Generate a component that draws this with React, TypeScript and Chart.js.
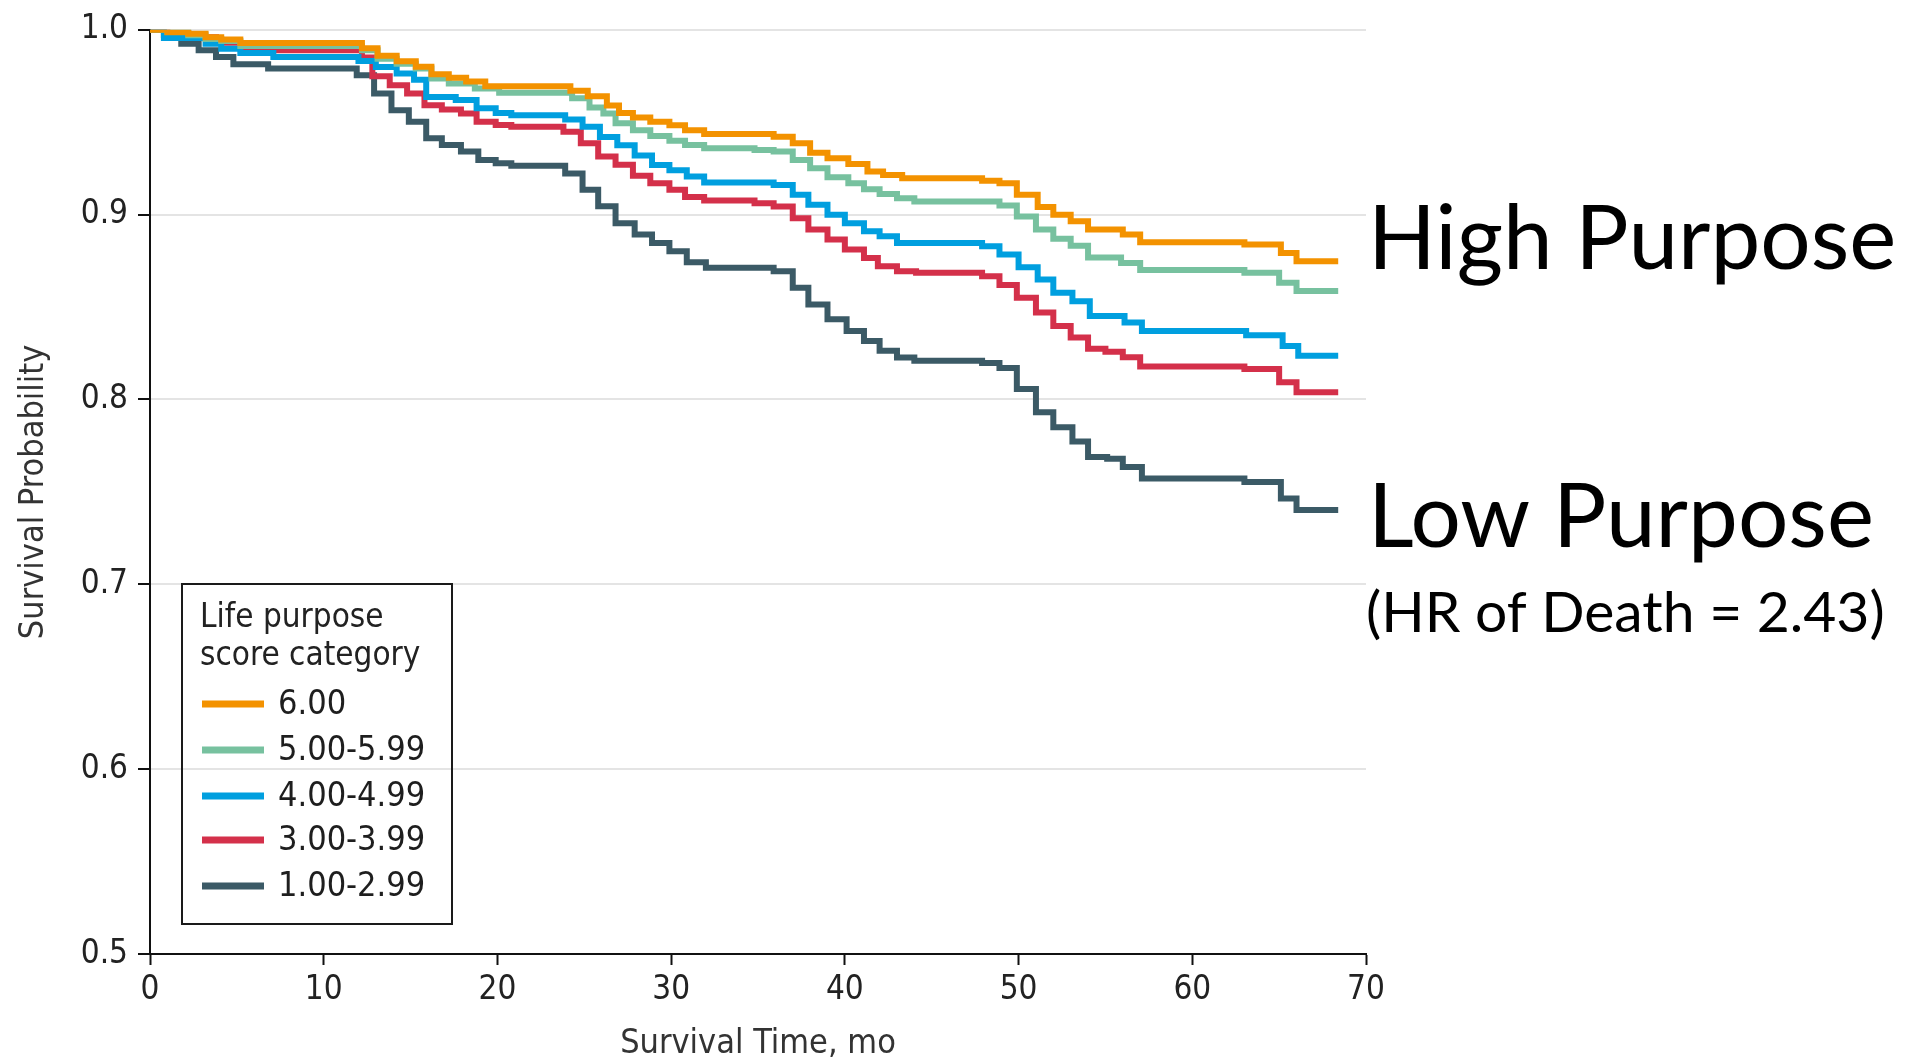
import React, { useEffect, useRef } from 'react';
import { Chart, registerables } from 'chart.js';

Chart.register(...registerables);

// ---- Data ----
const seriesLabels = ['6.00', '5.00-5.99', '4.00-4.99', '3.00-3.99', '1.00-2.99'];
const seriesColors = ['#F39200', '#77C19F', '#009FDF', '#D4304A', '#3B5A66'];

const monthsP6 = [0, 1.0, 2.2, 3.2, 4.1, 5.2, 12.2, 13.1, 14.2, 15.3, 16.2, 17.2, 18.2, 19.3, 24.2, 25.2, 26.3, 27.0, 27.8, 28.8, 29.9, 30.8, 31.9, 35.9, 37.0, 38.0, 39.0, 40.2, 41.3, 42.2, 43.3, 47.9, 48.9, 49.9, 51.1, 52.0, 53.0, 54.0, 56.0, 57.0, 63.0, 65.1, 66.0, 68.4];
const survP6 = [1.0, 0.9987, 0.9978, 0.996, 0.9948, 0.9928, 0.990, 0.986, 0.983, 0.980, 0.976, 0.974, 0.972, 0.9695, 0.967, 0.964, 0.959, 0.955, 0.9526, 0.9502, 0.9484, 0.9457, 0.9436, 0.9421, 0.9386, 0.9335, 0.9305, 0.9274, 0.9233, 0.9215, 0.9197, 0.9184, 0.917, 0.9107, 0.9042, 0.900, 0.8964, 0.8919, 0.8892, 0.885, 0.8838, 0.8793, 0.8748, 0.8748];

const monthsP5 = [0, 1.0, 2.2, 3.2, 4.1, 5.2, 12.2, 13.1, 14.2, 15.3, 16.2, 17.2, 18.7, 20.1, 24.3, 25.3, 26.1, 26.8, 27.8, 28.8, 29.9, 30.8, 31.9, 34.8, 35.9, 37.0, 38.0, 39.0, 40.2, 41.1, 42.0, 43.0, 44.0, 48.9, 49.9, 51.0, 52.0, 53.0, 54.0, 55.9, 57.0, 63.0, 65.0, 66.0, 68.4];
const survP5 = [1.0, 0.999, 0.997, 0.995, 0.9939, 0.9912, 0.9889, 0.9844, 0.9817, 0.979, 0.9736, 0.9709, 0.9682, 0.9659, 0.963, 0.958, 0.9547, 0.9494, 0.9457, 0.9425, 0.940, 0.9377, 0.9359, 0.935, 0.9341, 0.9296, 0.9251, 0.9202, 0.917, 0.9138, 0.9112, 0.9089, 0.9071, 0.905, 0.899, 0.8919, 0.8869, 0.8832, 0.8768, 0.8739, 0.870, 0.8685, 0.8631, 0.8587, 0.8587];

const monthsP4 = [0, 0.8, 3.2, 4.1, 5.2, 7.1, 12.0, 13.0, 14.2, 15.2, 15.9, 17.6, 18.8, 19.9, 20.8, 23.9, 24.9, 25.9, 26.9, 27.9, 28.9, 29.9, 30.9, 31.9, 35.9, 37.0, 37.9, 39.0, 40.0, 41.1, 42.0, 43.0, 47.9, 48.9, 50.0, 51.1, 52.0, 53.1, 54.1, 56.1, 57.1, 63.1, 65.2, 66.1, 68.4];
const survP4 = [1.0, 0.9955, 0.9925, 0.9898, 0.9874, 0.9853, 0.9831, 0.9799, 0.9763, 0.973, 0.9637, 0.962, 0.9575, 0.955, 0.9538, 0.9515, 0.9475, 0.942, 0.9375, 0.932, 0.9269, 0.924, 0.9206, 0.9174, 0.9161, 0.9107, 0.9053, 0.8999, 0.8954, 0.891, 0.8883, 0.8847, 0.8829, 0.8784, 0.8715, 0.8649, 0.8577, 0.8532, 0.8452, 0.8416, 0.8371, 0.8348, 0.829, 0.8236, 0.8236];

const monthsP3 = [0, 1.0, 2.2, 3.8, 5.2, 7.2, 12.2, 12.8, 13.8, 14.8, 15.8, 16.8, 17.9, 18.8, 19.9, 20.8, 23.8, 24.8, 25.8, 26.8, 27.8, 28.8, 29.9, 30.8, 31.9, 34.8, 35.9, 37.0, 37.9, 39.0, 40.0, 41.1, 41.9, 43.0, 44.1, 47.9, 48.9, 49.9, 51.0, 52.0, 53.0, 54.0, 55.0, 56.0, 57.0, 63.0, 65.0, 66.0, 68.4];
const survP3 = [1.0, 0.998, 0.996, 0.993, 0.9907, 0.9889, 0.985, 0.9749, 0.970, 0.9655, 0.9592, 0.9569, 0.9547, 0.9502, 0.9485, 0.9476, 0.9449, 0.9386, 0.9314, 0.927, 0.921, 0.917, 0.9135, 0.9095, 0.9077, 0.9062, 0.9044, 0.8981, 0.8919, 0.8865, 0.8811, 0.8766, 0.8721, 0.8694, 0.8685, 0.8667, 0.862, 0.855, 0.847, 0.8398, 0.8335, 0.8275, 0.8258, 0.8228, 0.8179, 0.8165, 0.8093, 0.8039, 0.8039];

const monthsP1 = [0, 0.8, 1.8, 2.8, 3.8, 4.8, 6.8, 11.9, 12.9, 13.9, 14.9, 15.9, 16.8, 17.9, 18.9, 19.9, 20.8, 23.9, 24.9, 25.8, 26.8, 27.9, 28.9, 29.9, 30.9, 32.0, 35.9, 37.0, 37.9, 39.0, 40.1, 41.1, 42.0, 43.0, 44.0, 47.9, 48.9, 49.9, 51.0, 52.0, 53.1, 54.0, 55.1, 56.0, 57.1, 63.0, 65.1, 66.0, 68.4];
const survP1 = [1.0, 0.997, 0.9925, 0.9889, 0.9853, 0.9813, 0.979, 0.9754, 0.9655, 0.9565, 0.9502, 0.9413, 0.9377, 0.9341, 0.9296, 0.9278, 0.9264, 0.9222, 0.9134, 0.9045, 0.8954, 0.8892, 0.8847, 0.8802, 0.8743, 0.8712, 0.8694, 0.8604, 0.8514, 0.8434, 0.8371, 0.8317, 0.8263, 0.8227, 0.8209, 0.8197, 0.817, 0.8057, 0.7931, 0.785, 0.7773, 0.7689, 0.768, 0.7635, 0.7572, 0.7554, 0.7464, 0.7402, 0.7402];

const seriesMonths = [monthsP6, monthsP5, monthsP4, monthsP3, monthsP1];
const seriesSurv = [survP6, survP5, survP4, survP3, survP1];

const xTicks = [0, 10, 20, 30, 40, 50, 60, 70];
const yTicks = [0.5, 0.6, 0.7, 0.8, 0.9, 1.0];

const xTitle = 'Survival Time, mo';
const yTitle = 'Survival Probability';
const legendTitle = ['Life purpose', 'score category'];
const highLabel = 'High Purpose';
const lowLabel = 'Low Purpose';
const hrLabel = '(HR of Death = 2.43)';

const COND = "'DejaVu Sans Condensed', 'Liberation Sans Narrow', 'DejaVu Sans', sans-serif";
const ANNOT = "Lato, 'Open Sans', sans-serif";

const overlayPlugin = {
  id: 'overlay',
  afterDraw(chart: any) {
    const ctx = chart.ctx as CanvasRenderingContext2D;
    ctx.save();
    // Legend box
    ctx.strokeStyle = '#1a1a1a';
    ctx.lineWidth = 2;
    ctx.strokeRect(182, 584, 270, 340);
    ctx.fillStyle = '#222';
    ctx.textAlign = 'left';
    ctx.textBaseline = 'alphabetic';
    ctx.font = `33px ${COND}`;
    ctx.fillText(legendTitle[0], 200, 627);
    ctx.fillText(legendTitle[1], 200, 665);
    const rowY = [704, 750, 796, 840, 886];
    ctx.font = `34px ${COND}`;
    ctx.textBaseline = 'middle';
    seriesLabels.forEach((lab, i) => {
      ctx.strokeStyle = seriesColors[i];
      ctx.lineWidth = 7;
      ctx.beginPath();
      ctx.moveTo(202, rowY[i]);
      ctx.lineTo(264, rowY[i]);
      ctx.stroke();
      ctx.fillStyle = '#1e1e1e';
      ctx.fillText(lab, 278, rowY[i] + 1);
    });
    // Right-side annotations
    ctx.fillStyle = '#000';
    ctx.textBaseline = 'alphabetic';
    ctx.font = `89px ${ANNOT}`;
    ctx.fillText(highLabel, 1368, 269);
    ctx.fillText(lowLabel, 1368, 547);
    ctx.font = `57px ${ANNOT}`;
    ctx.fillText(hrLabel, 1366, 632);
    ctx.restore();
  },
};

export default function App() {
  const canvasRef = useRef<HTMLCanvasElement | null>(null);

  useEffect(() => {
    if (!canvasRef.current) return;
    const datasets = seriesLabels.map((label, i) => ({
      label,
      data: seriesMonths[i].map((m, j) => ({ x: m, y: seriesSurv[i][j] })),
      borderColor: seriesColors[i],
      backgroundColor: seriesColors[i],
      borderWidth: 6,
      pointRadius: 0,
      stepped: true as const,
      fill: false,
      borderJoinStyle: 'miter' as const,
      borderCapStyle: 'butt' as const,
    }));

    const chart = new Chart(canvasRef.current, {
      type: 'line',
      data: { datasets },
      options: {
        responsive: false,
        animation: false,
        layout: { padding: { top: 26, right: 558, bottom: 0, left: 0 } },
        plugins: { legend: { display: false }, tooltip: { enabled: false } },
        scales: {
          x: {
            type: 'linear',
            min: 0,
            max: 70,
            afterFit: (s: any) => { s.height = 106; },
            afterBuildTicks: (s: any) => { s.ticks = xTicks.map((v) => ({ value: v })); },
            ticks: {
              font: { family: COND, size: 33 },
              color: '#222',
              padding: 6,
              maxRotation: 0,
              autoSkip: false,
              callback: (v: any) => String(v),
            },
            grid: { drawOnChartArea: false, drawTicks: true, tickLength: 11, tickColor: '#111', tickWidth: 2 },
            border: { display: true, color: '#111', width: 2 },
            title: {
              display: true,
              text: xTitle,
              font: { family: COND, size: 34 },
              color: '#333',
              padding: { top: 0, bottom: -5 },
            },
          },
          y: {
            type: 'linear',
            min: 0.5,
            max: 1.0,
            afterFit: (s: any) => { s.width = 150; },
            afterBuildTicks: (s: any) => { s.ticks = yTicks.map((v) => ({ value: v })); },
            ticks: {
              font: { family: COND, size: 33 },
              color: '#222',
              padding: 10,
              autoSkip: false,
              callback: (v: any) => Number(v).toFixed(1),
            },
            grid: { color: '#e4e4e4', lineWidth: 2, drawTicks: true, tickLength: 12, tickColor: '#111', tickWidth: 2 },
            border: { display: true, color: '#111', width: 2 },
            title: {
              display: true,
              text: yTitle,
              font: { family: COND, size: 34 },
              color: '#333',
              padding: { top: 14, bottom: 0 },
            },
          },
        },
      },
      plugins: [overlayPlugin],
    } as any);
    return () => chart.destroy();
  }, []);

  return (
    <div style={{ position: 'absolute', left: 0, top: 0, width: 1924, height: 1060, background: '#fff' }}>
      <canvas ref={canvasRef} width={1924} height={1060} style={{ display: 'block', width: 1924, height: 1060 }} />
    </div>
  );
}
